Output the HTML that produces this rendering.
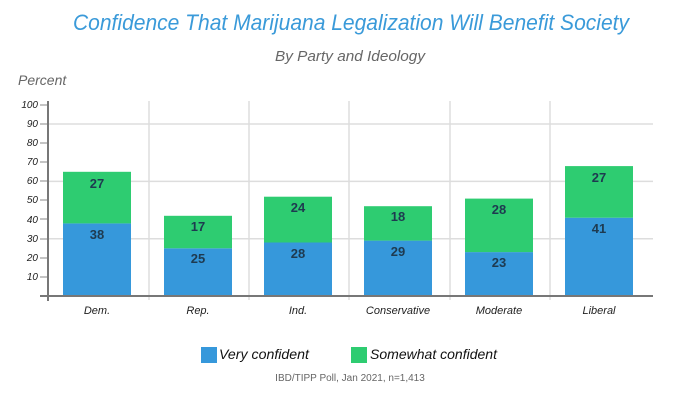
<!DOCTYPE html>
<html><head><meta charset="utf-8"><style>
html,body{margin:0;padding:0;background:#fff;}
svg{display:block;font-family:"Liberation Sans",sans-serif;}
</style></head><body>
<svg width="700" height="400" viewBox="0 0 700 400">
<text x="351" y="30" text-anchor="middle" font-size="22" font-style="italic" fill="#3a9ad9" textLength="556" lengthAdjust="spacingAndGlyphs">Confidence That Marijuana Legalization Will Benefit Society</text>
<text x="350" y="61" text-anchor="middle" font-size="15" font-style="italic" fill="#666" textLength="150" lengthAdjust="spacingAndGlyphs">By Party and Ideology</text>
<text x="18" y="85" font-size="14" font-style="italic" fill="#666">Percent</text>
<g stroke="#ddd" stroke-width="1.5">
<line x1="48" y1="124" x2="653" y2="124"/>
<line x1="48" y1="181.4" x2="653" y2="181.4"/>
<line x1="48" y1="238.7" x2="653" y2="238.7"/>
<line x1="149" y1="101" x2="149" y2="300"/>
<line x1="249" y1="101" x2="249" y2="300"/>
<line x1="349" y1="101" x2="349" y2="300"/>
<line x1="450" y1="101" x2="450" y2="300"/>
<line x1="550" y1="101" x2="550" y2="300"/>
</g>
<g font-size="10" font-style="italic" fill="#222" text-anchor="end">
<text x="38" y="108">100</text><text x="38" y="127">90</text><text x="38" y="146">80</text><text x="38" y="165">70</text><text x="38" y="184">60</text><text x="38" y="203">50</text><text x="38" y="223">40</text><text x="38" y="242">30</text><text x="38" y="261">20</text><text x="38" y="280">10</text>
</g>
<g stroke="#888" stroke-width="1">
<line x1="40" y1="105" x2="48" y2="105"/><line x1="40" y1="124" x2="48" y2="124"/><line x1="40" y1="143" x2="48" y2="143"/><line x1="40" y1="162" x2="48" y2="162"/><line x1="40" y1="181" x2="48" y2="181"/><line x1="40" y1="200" x2="48" y2="200"/><line x1="40" y1="219" x2="48" y2="219"/><line x1="40" y1="239" x2="48" y2="239"/><line x1="40" y1="258" x2="48" y2="258"/><line x1="40" y1="277" x2="48" y2="277"/>
</g>
<g>
<rect x="63" y="223.4" width="68" height="72.6" fill="#3698db"/><rect x="63" y="171.8" width="68" height="51.6" fill="#2ecc71"/>
<rect x="164" y="248.3" width="68" height="47.7" fill="#3698db"/><rect x="164" y="215.8" width="68" height="32.5" fill="#2ecc71"/>
<rect x="264" y="242.5" width="68" height="53.5" fill="#3698db"/><rect x="264" y="196.7" width="68" height="45.8" fill="#2ecc71"/>
<rect x="364" y="240.6" width="68" height="55.4" fill="#3698db"/><rect x="364" y="206.2" width="68" height="34.4" fill="#2ecc71"/>
<rect x="465" y="252.1" width="68" height="43.9" fill="#3698db"/><rect x="465" y="198.6" width="68" height="53.5" fill="#2ecc71"/>
<rect x="565" y="217.7" width="68" height="78.3" fill="#3698db"/><rect x="565" y="166.1" width="68" height="51.6" fill="#2ecc71"/>
</g>
<g font-size="13" font-weight="bold" fill="#1e3a50" text-anchor="middle">
<text x="97" y="239">38</text><text x="97" y="188">27</text>
<text x="198" y="263">25</text><text x="198" y="231">17</text>
<text x="298" y="258">28</text><text x="298" y="212">24</text>
<text x="398" y="256">29</text><text x="398" y="221">18</text>
<text x="499" y="267">23</text><text x="499" y="214">28</text>
<text x="599" y="233">41</text><text x="599" y="182">27</text>
</g>
<line x1="40" y1="296" x2="653" y2="296" stroke="#777" stroke-width="2"/>
<line x1="48" y1="101" x2="48" y2="301" stroke="#777" stroke-width="2"/>
<g font-size="11" font-style="italic" fill="#222" text-anchor="middle">
<text x="97" y="314">Dem.</text><text x="198" y="314">Rep.</text><text x="298" y="314">Ind.</text><text x="398" y="314">Conservative</text><text x="499" y="314">Moderate</text><text x="599" y="314">Liberal</text>
</g>
<rect x="201" y="347" width="16" height="16" fill="#3698db"/>
<text x="219" y="359" font-size="14" font-style="italic" fill="#111" textLength="90" lengthAdjust="spacingAndGlyphs">Very confident</text>
<rect x="351" y="347" width="16" height="16" fill="#2ecc71"/>
<text x="370" y="359" font-size="14" font-style="italic" fill="#111" textLength="127" lengthAdjust="spacingAndGlyphs">Somewhat confident</text>
<text x="350" y="381" font-size="10" fill="#666" text-anchor="middle">IBD/TIPP Poll, Jan 2021, n=1,413</text>
</svg>
</body></html>
